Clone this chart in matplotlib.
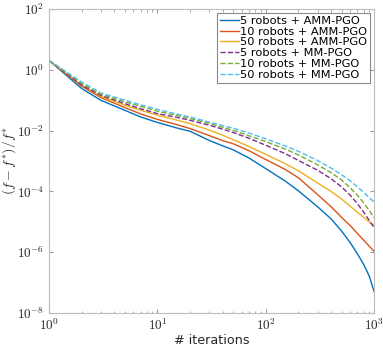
import numpy as np
import matplotlib
matplotlib.use("Agg")
import matplotlib.pyplot as plt

plt.rcParams['mathtext.fontset'] = 'cm'

iters = [1, 2, 3, 5, 7, 10, 15, 20, 30, 40, 50, 70, 100, 150, 200, 300, 400,
         500, 600, 700, 800, 900, 1000]

# relative suboptimality, given as log10 values (decades)
amm_5 = [0.31, -0.615, -1.0, -1.33, -1.55, -1.73, -1.91, -2.02, -2.32, -2.5,
         -2.63, -2.9, -3.25, -3.65, -3.98, -4.5, -4.9, -5.3, -5.68, -6.05,
         -6.4, -6.78, -7.3]
amm_10 = [0.31, -0.54, -0.91, -1.24, -1.45, -1.63, -1.8, -1.93, -2.16, -2.33,
          -2.43, -2.66, -2.95, -3.27, -3.55, -4.1, -4.5, -4.85, -5.12, -5.38,
          -5.6, -5.8, -5.97]
amm_50 = [0.31, -0.5, -0.87, -1.16, -1.33, -1.49, -1.65, -1.77, -1.98, -2.15,
          -2.3, -2.52, -2.78, -3.08, -3.32, -3.72, -4.0, -4.25, -4.48, -4.68,
          -4.85, -5.0, -5.12]
mm_5 = [0.31, -0.5, -0.84, -1.11, -1.28, -1.44, -1.56, -1.66, -1.82, -1.95,
        -2.06, -2.25, -2.48, -2.75, -2.98, -3.3, -3.58, -3.85, -4.12, -4.4,
        -4.68, -4.95, -5.2]
mm_10 = [0.31, -0.45, -0.80, -1.05, -1.2, -1.36, -1.5, -1.6, -1.76, -1.89,
         -1.99, -2.17, -2.36, -2.6, -2.8, -3.12, -3.38, -3.62, -3.88, -4.12,
         -4.38, -4.62, -4.87]
mm_50 = [0.31, -0.4, -0.76, -1.0, -1.15, -1.30, -1.45, -1.55, -1.72, -1.83,
         -1.92, -2.08, -2.27, -2.5, -2.68, -2.98, -3.23, -3.45, -3.65, -3.85,
         -4.03, -4.2, -4.35]

labels = ['5 robots + AMM-PGO', '10 robots + AMM-PGO', '50 robots + AMM-PGO',
          '5 robots + MM-PGO', '10 robots + MM-PGO', '50 robots + MM-PGO']
series = [amm_5, amm_10, amm_50, mm_5, mm_10, mm_50]
colors = ['#0072BD', '#D95319', '#EDB120', '#7E2F8E', '#77AC30', '#4DBEEE']
styles = ['-', '-', '-', '--', '--', '--']

xticks = [1, 10, 100, 1000]
xtick_labels = ['$10^{0}$', '$10^{1}$', '$10^{2}$', '$10^{3}$']
yticks = [1e-8, 1e-6, 1e-4, 1e-2, 1e0, 1e2]
ytick_labels = ['$10^{-8}$', '$10^{-6}$', '$10^{-4}$', '$10^{-2}$', '$10^{0}$', '$10^{2}$']

fig = plt.figure(figsize=(3.83, 3.46), dpi=100)
ax = fig.add_axes([0.128, 0.095, 0.849, 0.879])

for y, lab, c, ls in zip(series, labels, colors, styles):
    ax.plot(iters, np.power(10.0, y), ls, color=c, lw=1.0, label=lab)

ax.set_xscale('log')
ax.set_yscale('log')
ax.set_xlim(1, 1000)
ax.set_ylim(1e-8, 1e2)
ax.set_xticks(xticks)
ax.set_xticklabels(xtick_labels)
ax.set_yticks(yticks)
ax.set_yticklabels(ytick_labels)

for s in ax.spines.values():
    s.set_color('#bdbdbd')
    s.set_linewidth(0.8)
ax.tick_params(which='both', direction='in', top=True, right=True,
               color='#9a9a9a', labelsize=9.5, labelcolor='#262626')
ax.tick_params(which='major', length=3)
ax.tick_params(which='minor', length=1.8)

ax.set_xlabel('# iterations', fontsize=9.2, color='#262626', va='top')
ax.xaxis.set_label_coords(0.5, -0.068)
ax.set_ylabel('$(f-f^{*})/f^{*}$', fontsize=10, color='#262626')
ax.yaxis.set_label_coords(-0.095, 0.5)

leg = ax.legend(loc='upper right', fontsize=8.2, labelspacing=0.07,
                handlelength=1.65, handletextpad=0.15, borderpad=0.25,
                borderaxespad=0.35, fancybox=False, framealpha=1)
leg.get_frame().set_edgecolor('#8a8a8a')
leg.get_frame().set_linewidth(0.8)

fig.savefig('out.png', dpi=100)
